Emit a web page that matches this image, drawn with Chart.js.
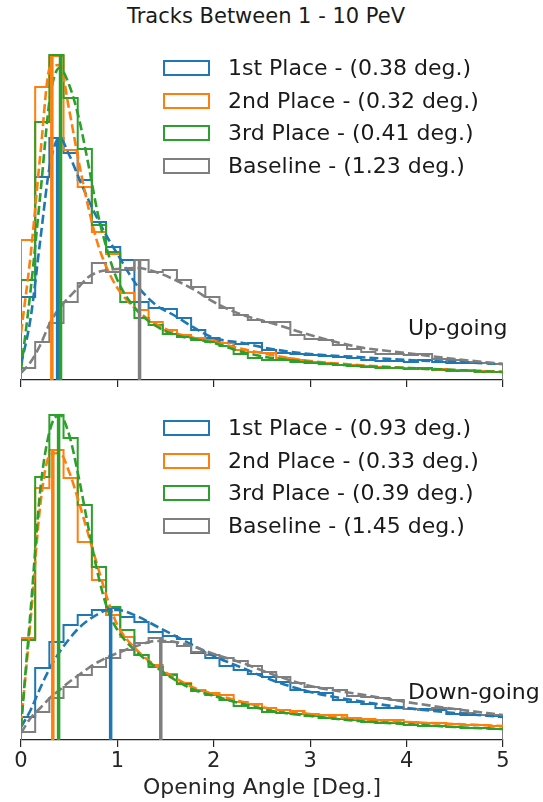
<!DOCTYPE html>
<html lang="en">
  <head>
    <meta charset="UTF-8" />
    <title>Opening Angle</title>
    <script src="https://cdn.jsdelivr.net/npm/chart.js"></script>
    <style>
      body {
        margin: 0;
        width: 543px;
        height: 802px;
        background: #fff;
        position: relative;
        overflow: hidden;
        font-family: "DejaVu Sans", sans-serif;
        color: #1a1a1a;
      }
      .title {
        position: absolute;
        top: 6px;
        left: 0;
        width: 532px;
        text-align: center;
        font-size: 21px;
        line-height: 21px;
      }
      .panel {
        position: absolute;
        left: 0;
        width: 543px;
      }
      .legend {
        position: absolute;
        left: 163px;
        font-size: 22px;
      }
      .legend-row {
        height: 32.5px;
        display: flex;
        align-items: center;
        line-height: 22px;
      }
      .legend-box {
        width: 43px;
        height: 12px;
        border: 2px solid;
        margin-right: 18px;
        box-sizing: content-box;
      }
      .tag {
        position: absolute;
        left: 408px;
        font-size: 22px;
        line-height: 22px;
      }
    </style>
  </head>
  <body>
    <div class="title">Tracks Between 1 - 10 PeV</div>

    <div class="panel" style="top: 40px; height: 347px">
      <canvas id="upChart"></canvas>
    </div>
    <div class="panel" style="top: 400px; height: 402px">
      <canvas id="downChart"></canvas>
    </div>

    <div class="legend" id="upLegend" style="top: 52px"></div>
    <div class="legend" id="downLegend" style="top: 412px"></div>
    <div class="tag" style="top: 317px">Up-going</div>
    <div class="tag" style="top: 681px">Down-going</div>

    <script>
      const names = ["1st Place", "2nd Place", "3rd Place", "Baseline"];
      const colors = ["#1f77b4", "#ff7f0e", "#2ca02c", "#7f7f7f"];

      // 34 equal bins between 0 and 5 degrees
      const binCount = 34;
      const angleMax = 5;

      // median opening angle per model
      const upMedians = [0.38, 0.32, 0.41, 1.23];
      const downMedians = [0.93, 0.33, 0.39, 1.45];

      // histogram counts, up-going tracks
      const upFirst = [83, 203, 242, 227, 200, 158, 133, 120, 78, 72, 71, 62, 50, 42, 37, 36, 37, 30, 27, 26, 25, 24, 23, 22, 20, 19, 19, 18, 20, 18, 17, 17, 17, 16];
      const upSecond = [140, 293, 324, 230, 193, 148, 126, 87, 70, 58, 50, 45, 42, 40, 37, 30, 28, 27, 22, 20, 18, 17, 15, 15, 14, 13, 12, 12, 11, 11, 10, 10, 9, 8];
      const upThird = [100, 258, 325, 282, 231, 155, 128, 78, 62, 55, 46, 43, 40, 38, 34, 26, 22, 20, 20, 18, 17, 16, 15, 14, 13, 12, 12, 11, 12, 10, 9, 9, 8, 8];
      const upBase = [12, 38, 57, 78, 97, 117, 108, 110, 120, 108, 110, 100, 93, 83, 72, 65, 60, 58, 58, 45, 41, 40, 35, 31, 28, 26, 26, 25, 26, 21, 20, 18, 17, 16];

      // histogram counts, down-going tracks
      const downFirst = [23, 72, 98, 115, 125, 130, 132, 123, 118, 108, 104, 101, 87, 82, 74, 70, 66, 63, 58, 50, 48, 47, 40, 38, 36, 32, 32, 31, 31, 30, 26, 25, 25, 24];
      const downSecond = [102, 252, 290, 262, 198, 160, 125, 103, 85, 75, 66, 57, 50, 47, 45, 38, 36, 32, 30, 29, 26, 25, 25, 22, 21, 20, 20, 18, 17, 17, 16, 15, 15, 14];
      const downThird = [100, 263, 325, 302, 235, 173, 133, 110, 85, 73, 65, 56, 49, 45, 40, 34, 32, 28, 27, 26, 24, 22, 21, 20, 18, 17, 17, 15, 14, 14, 13, 12, 12, 11];
      const downBase = [8, 28, 42, 53, 65, 73, 82, 90, 97, 102, 98, 94, 88, 85, 82, 79, 74, 68, 63, 57, 53, 52, 50, 44, 43, 42, 40, 31, 30, 32, 31, 27, 25, 25];

      // smoothed density curves (dashed), sampled at these angles
      const smoothX = [0, 0.1, 0.2, 0.3, 0.4, 0.5, 0.6, 0.7, 0.8, 0.9, 1.0, 1.2, 1.4, 1.6, 1.8, 2.0, 2.3, 2.6, 3.0, 3.5, 4.0, 4.5, 5.0];
      const upFirstSmooth = [15, 62, 140, 215, 242, 225, 202, 180, 160, 142, 126, 95, 75, 64, 52, 42, 37, 31, 26, 23, 20, 18, 16];
      const upSecondSmooth = [47, 125, 225, 312, 315, 270, 218, 172, 135, 110, 92, 70, 56, 47, 42, 38, 31, 25, 19, 15, 12, 10, 8];
      const upThirdSmooth = [10, 90, 185, 282, 312, 295, 262, 215, 165, 128, 100, 70, 54, 45, 41, 37, 28, 22, 18, 14, 12, 10, 8];
      const upBaseSmooth = [7, 18, 35, 57, 72, 83, 93, 103, 108, 110, 111, 112, 108, 100, 90, 78, 65, 57, 45, 33, 27, 21, 16];
      const downFirstSmooth = [13, 30, 52, 72, 88, 101, 112, 120, 126, 130, 130, 124, 114, 104, 94, 84, 72, 60, 48, 39, 32, 27, 23];
      const downSecondSmooth = [15, 120, 235, 285, 287, 268, 238, 205, 172, 140, 115, 90, 74, 62, 52, 46, 38, 31, 26, 21, 18, 16, 14];
      const downThirdSmooth = [13, 130, 250, 310, 325, 305, 262, 212, 165, 130, 110, 88, 73, 60, 50, 44, 36, 29, 24, 19, 16, 13, 11];
      const downBaseSmooth = [7, 22, 32, 42, 50, 58, 65, 72, 78, 83, 87, 94, 99, 98, 93, 86, 77, 66, 54, 46, 38, 31, 25];

      const binWidth = angleMax / binCount;

      // step outline like histtype="step": up the left edge, across each bin, down at the right
      function stepPoints(counts) {
        const pts = [{ x: 0, y: 0 }];
        counts.forEach((c, i) => pts.push({ x: i * binWidth, y: c }));
        pts.push({ x: angleMax, y: 0 });
        return pts;
      }

      function curvePoints(values) {
        return values.map((v, i) => ({ x: smoothX[i], y: v }));
      }

      // vertical median marker, as tall as the bin it falls into
      function medianPoints(median, counts) {
        const bin = Math.min(counts.length - 1, Math.floor(median / binWidth));
        return [
          { x: median, y: 0 },
          { x: median, y: counts[bin] },
        ];
      }

      function buildDatasets(hists, curves, medians) {
        const sets = [];
        hists.forEach((counts, i) => {
          sets.push({
            label: names[i],
            data: stepPoints(counts),
            stepped: "before",
            borderColor: colors[i],
            borderWidth: 2,
            order: 20 - i,
          });
          sets.push({
            label: names[i] + " smooth",
            data: curvePoints(curves[i]),
            cubicInterpolationMode: "monotone",
            borderColor: colors[i],
            borderWidth: 2.6,
            borderDash: [9, 4],
            order: 10 - i,
          });
          sets.push({
            label: names[i] + " median",
            data: medianPoints(medians[i], counts),
            borderColor: colors[i],
            borderWidth: 3.5,
            borderCapStyle: "butt",
            order: 4 - i,
          });
        });
        return sets;
      }

      function makeChart(id, datasets, showLabels) {
        const axisColor = "#262626";
        return new Chart(document.getElementById(id), {
          type: "line",
          data: { datasets },
          options: {
            responsive: true,
            maintainAspectRatio: false,
            animation: false,
            layout: { padding: { left: 21, right: 40, top: 0, bottom: 0 } },
            elements: { point: { radius: 0 }, line: { fill: false } },
            plugins: { legend: { display: false }, tooltip: { enabled: false } },
            scales: {
              x: {
                type: "linear",
                min: 0,
                max: angleMax,
                afterFit: (scale) => {
                  scale.height = showLabels ? 62 : 7;
                },
                grid: {
                  drawOnChartArea: false,
                  drawTicks: true,
                  tickLength: 7,
                  color: axisColor,
                  lineWidth: 1.2,
                },
                border: { display: true, color: axisColor, width: 1.3 },
                ticks: {
                  display: showLabels,
                  stepSize: 1,
                  padding: 2,
                  color: axisColor,
                  font: { family: "DejaVu Sans", size: 21 },
                },
                title: {
                  display: showLabels,
                  text: "Opening Angle [Deg.]",
                  color: axisColor,
                  font: { family: "DejaVu Sans", size: 22 },
                  padding: { top: 0, bottom: 1 },
                },
              },
              y: { display: false, min: 0, max: 340 },
            },
          },
        });
      }

      function buildLegend(id, medians) {
        const box = document.getElementById(id);
        names.forEach((name, i) => {
          const row = document.createElement("div");
          row.className = "legend-row";
          const swatch = document.createElement("span");
          swatch.className = "legend-box";
          swatch.style.borderColor = colors[i];
          const text = document.createElement("span");
          text.textContent = `${name} - (${medians[i].toFixed(2)} deg.)`;
          row.appendChild(swatch);
          row.appendChild(text);
          box.appendChild(row);
        });
      }

      makeChart(
        "upChart",
        buildDatasets(
          [upFirst, upSecond, upThird, upBase],
          [upFirstSmooth, upSecondSmooth, upThirdSmooth, upBaseSmooth],
          upMedians
        ),
        false
      );
      makeChart(
        "downChart",
        buildDatasets(
          [downFirst, downSecond, downThird, downBase],
          [downFirstSmooth, downSecondSmooth, downThirdSmooth, downBaseSmooth],
          downMedians
        ),
        true
      );
      buildLegend("upLegend", upMedians);
      buildLegend("downLegend", downMedians);
    </script>
  </body>
</html>
